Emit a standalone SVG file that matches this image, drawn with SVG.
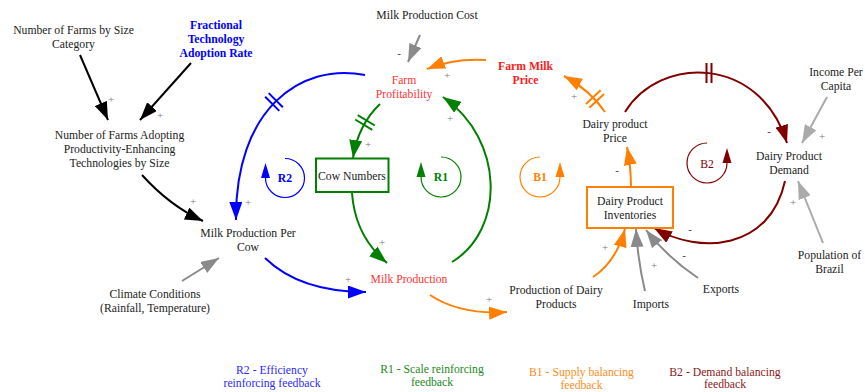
<svg xmlns="http://www.w3.org/2000/svg" width="865" height="392" viewBox="0 0 865 392">
  <style>
    text { font-family: "Liberation Serif", "Times New Roman", serif; font-size: 11.7px; text-anchor: middle; fill: #222; }
    .b { font-weight: bold; }
    .sign { fill: #777; font-size: 11px; }
    .neg { fill: #333; font-size: 11px; }
    .lk { fill: none; stroke-width: 2; }
    .k { stroke: #000; }
    .g { stroke: #8a8a8a; }
    .lg { stroke: #aaaaaa; }
    .bl { stroke: #0000ff; }
    .gr { stroke: #008000; }
    .or { stroke: #ff8000; }
    .dr { stroke: #800000; }
    .loop { fill: none; stroke-width: 1.2; }
    .dly { stroke-width: 2; fill: none; }
  </style>
  <defs>
    <marker id="ak" markerWidth="18" markerHeight="13" refX="18" refY="6.5" orient="auto" markerUnits="userSpaceOnUse"><path d="M0,0 L18,6.5 L0,13 z" fill="#000"/></marker>
    <marker id="ag" markerWidth="18" markerHeight="13" refX="18" refY="6.5" orient="auto" markerUnits="userSpaceOnUse"><path d="M0,0 L18,6.5 L0,13 z" fill="#8a8a8a"/></marker>
    <marker id="alg" markerWidth="18" markerHeight="13" refX="18" refY="6.5" orient="auto" markerUnits="userSpaceOnUse"><path d="M0,0 L18,6.5 L0,13 z" fill="#aaaaaa"/></marker>
    <marker id="abl" markerWidth="18" markerHeight="13" refX="18" refY="6.5" orient="auto" markerUnits="userSpaceOnUse"><path d="M0,0 L18,6.5 L0,13 z" fill="#0000ff"/></marker>
    <marker id="agr" markerWidth="18" markerHeight="13" refX="18" refY="6.5" orient="auto" markerUnits="userSpaceOnUse"><path d="M0,0 L18,6.5 L0,13 z" fill="#008000"/></marker>
    <marker id="aor" markerWidth="18" markerHeight="13" refX="18" refY="6.5" orient="auto" markerUnits="userSpaceOnUse"><path d="M0,0 L18,6.5 L0,13 z" fill="#ff8000"/></marker>
    <marker id="adr" markerWidth="18" markerHeight="13" refX="18" refY="6.5" orient="auto" markerUnits="userSpaceOnUse"><path d="M0,0 L18,6.5 L0,13 z" fill="#800000"/></marker>
    <!-- delay mark: two parallel bars across a link -->
    <g id="delay"><line x1="-2.5" y1="-10" x2="-2.5" y2="10"/><line x1="2.5" y1="-10" x2="2.5" y2="10"/></g>
  </defs>

  <!-- connectors -->
  <g id="links">
    <path class="lk k" d="M80,55 L108,120" marker-end="url(#ak)"/>
    <path class="lk k" d="M191,63 L140,120" marker-end="url(#ak)"/>
    <path class="lk k" d="M142,175 Q170,206 203,221" marker-end="url(#ak)"/>
    <path class="lk g" d="M182,281 L219,258" marker-end="url(#ag)"/>
    <path class="lk g" d="M420,35 L408,62" marker-end="url(#ag)"/>

    <path class="lk bl" d="M365,75 C300,62 235,110 236,220" marker-end="url(#abl)"/>
    <use href="#delay" class="dly bl" transform="translate(274,102) rotate(135)"/>
    <path class="lk bl" d="M265,258 Q300,292 366,292" marker-end="url(#abl)"/>

    <path class="lk gr" d="M380,104 Q358,125 353,158" marker-end="url(#agr)"/>
    <use href="#delay" class="dly gr" transform="translate(365,122.5) rotate(121)"/>
    <path class="lk gr" d="M352,193 Q355,236 387,263" marker-end="url(#agr)"/>
    <path class="lk gr" d="M452,262 C505,230 505,140 443,97" marker-end="url(#agr)"/>

    <path class="lk or" d="M430,295 Q460,315 507,312" marker-end="url(#aor)"/>
    <path class="lk or" d="M593,277 Q616,262 625,229" marker-end="url(#aor)"/>
    <path class="lk or" d="M631,187 Q631,168 627,147" marker-end="url(#aor)"/>
    <path class="lk or" d="M605,112 Q590,90 564,76" marker-end="url(#aor)"/>
    <use href="#delay" class="dly or" transform="translate(595,99) rotate(-133)"/>
    <path class="lk or" d="M486,60 Q455,58 427,69" marker-end="url(#aor)"/>

    <path class="lk g" d="M645,291 Q638,262 636,229" marker-end="url(#ag)"/>
    <path class="lk g" d="M698,278 Q668,258 646,230" marker-end="url(#ag)"/>

    <path class="lk dr" d="M625,112 C660,55 760,55 787,143" marker-end="url(#adr)"/>
    <use href="#delay" class="dly dr" transform="translate(709,73) rotate(0)"/>
    <path class="lk dr" d="M785,181 C770,250 700,255 654,228" marker-end="url(#adr)"/>

    <path class="lk lg" d="M827,97 L802,143" marker-end="url(#alg)"/>
    <path class="lk lg" d="M823,243 L798,181" marker-end="url(#alg)"/>
  </g>

  <!-- link polarities -->
  <g id="polarity">
    <text class="sign" x="111" y="103">+</text>
    <text class="sign" x="160" y="119">+</text>
    <text class="sign" x="193" y="205">+</text>
    <text class="sign" x="248" y="206">+</text>
    <text class="sign" x="348" y="283">+</text>
    <text class="sign" x="382" y="246">+</text>
    <text class="sign" x="368" y="148">+</text>
    <text class="neg" x="399" y="57">-</text>
    <text class="sign" x="447" y="79">+</text>
    <text class="sign" x="450" y="122">+</text>
    <text class="sign" x="574" y="100">+</text>
    <text class="neg" x="769" y="135">-</text>
    <text class="sign" x="822" y="140">+</text>
    <text class="neg" x="617" y="174">-</text>
    <text class="sign" x="793" y="206">+</text>
    <text class="neg" x="690" y="233">-</text>
    <text class="neg" x="684" y="259">-</text>
    <text class="sign" x="654" y="269">+</text>
    <text class="sign" x="605" y="251">+</text>
    <text class="sign" x="489" y="303">+</text>
  </g>

  <!-- loop identifiers -->
  <g id="loop-R2">
    <path class="loop bl" d="M285,158.5 A19.5,19.5 0 1 1 265.5,178"/>
    <polygon points="265.5,163 261,178 270,178" fill="#0000ff"/>
    <text class="b" x="285" y="182" style="fill:#0000ff">R2</text>
  </g>
  <g id="loop-R1">
    <path class="loop gr" d="M441,157 A20,20 0 1 1 421,177"/>
    <polygon points="421,162 416.5,177 425.5,177" fill="#008000"/>
    <text class="b" x="441" y="181" style="fill:#008000">R1</text>
  </g>
  <g id="loop-B1">
    <path class="loop or" d="M540,157 A20,20 0 1 0 560,177"/>
    <polygon points="560,162 555.5,177 564.5,177" fill="#ff8000"/>
    <text class="b" x="540" y="181" style="fill:#ff8000">B1</text>
  </g>
  <g id="loop-B2">
    <path class="loop dr" d="M707,143 A20,20 0 1 0 727,163"/>
    <polygon points="727,148 722.5,163 731.5,163" fill="#800000"/>
    <text x="707" y="168" style="fill:#800000">B2</text>
  </g>

  <!-- variables -->
  <g id="farms-by-size"><text x="73.5" y="34">Number of Farms by Size</text><text x="73.5" y="48">Category</text></g>
  <g id="adoption-rate"><text class="b" x="216" y="29" style="fill:#0000ff">Fractional</text><text class="b" x="216" y="43" style="fill:#0000ff">Technology</text><text class="b" x="216" y="57" style="fill:#0000ff">Adoption Rate</text></g>
  <g id="farms-adopting"><text x="119.5" y="139">Number of Farms Adopting</text><text x="119.5" y="153">Productivity-Enhancing</text><text x="119.5" y="167">Technologies by Size</text></g>
  <g id="milk-per-cow"><text x="248" y="237">Milk Production Per</text><text x="248" y="251">Cow</text></g>
  <g id="climate"><text x="155" y="298">Climate Conditions</text><text x="155" y="312">(Rainfall, Temperature)</text></g>
  <g id="milk-cost"><text x="427" y="19">Milk Production Cost</text></g>
  <g id="farm-profitability"><text x="404" y="84" style="fill:#ff3333">Farm</text><text x="404" y="98" style="fill:#ff3333">Profitability</text></g>
  <g id="cow-numbers">
    <rect x="316" y="158.5" width="72.5" height="33.5" fill="#fff" stroke="#008000" stroke-width="2"/>
    <text x="352" y="180">Cow Numbers</text>
  </g>
  <g id="milk-production"><text x="409" y="283" style="fill:#ff3333">Milk Production</text></g>
  <g id="farm-milk-price"><text class="b" x="525.5" y="70" style="fill:#ff1a1a">Farm Milk</text><text class="b" x="525.5" y="84" style="fill:#ff1a1a">Price</text></g>
  <g id="dairy-production"><text x="556" y="294">Production of Dairy</text><text x="556" y="308">Products</text></g>
  <g id="inventories">
    <rect x="587" y="187" width="86" height="41" fill="#fff" stroke="#ff8000" stroke-width="2"/>
    <text x="630" y="205">Dairy Product</text><text x="630" y="219">Inventories</text>
  </g>
  <g id="imports"><text x="651" y="308">Imports</text></g>
  <g id="exports"><text x="721" y="293">Exports</text></g>
  <g id="dairy-price"><text x="615" y="128">Dairy product</text><text x="615" y="142">Price</text></g>
  <g id="dairy-demand"><text x="789" y="160">Dairy Product</text><text x="789" y="174">Demand</text></g>
  <g id="income"><text x="836" y="76">Income Per</text><text x="836" y="90">Capita</text></g>
  <g id="population"><text x="829.5" y="259">Population of</text><text x="829.5" y="273">Brazil</text></g>

  <!-- legend -->
  <g id="legend">
    <text x="272" y="374" style="fill:#2a2aff">R2 - Efficiency</text>
    <text x="272" y="387" style="fill:#2a2aff">reinforcing feedback</text>
    <text x="432" y="373" style="fill:#1a8a1a">R1 - Scale reinforcing</text>
    <text x="432" y="386" style="fill:#1a8a1a">feedback</text>
    <text x="581.5" y="376" style="fill:#ff8c1a">B1 - Supply balancing</text>
    <text x="581.5" y="389" style="fill:#ff8c1a">feedback</text>
    <text x="725" y="376" style="fill:#8a1a1a">B2 - Demand balancing</text>
    <text x="725" y="388" style="fill:#8a1a1a">feedback</text>
  </g>
</svg>
